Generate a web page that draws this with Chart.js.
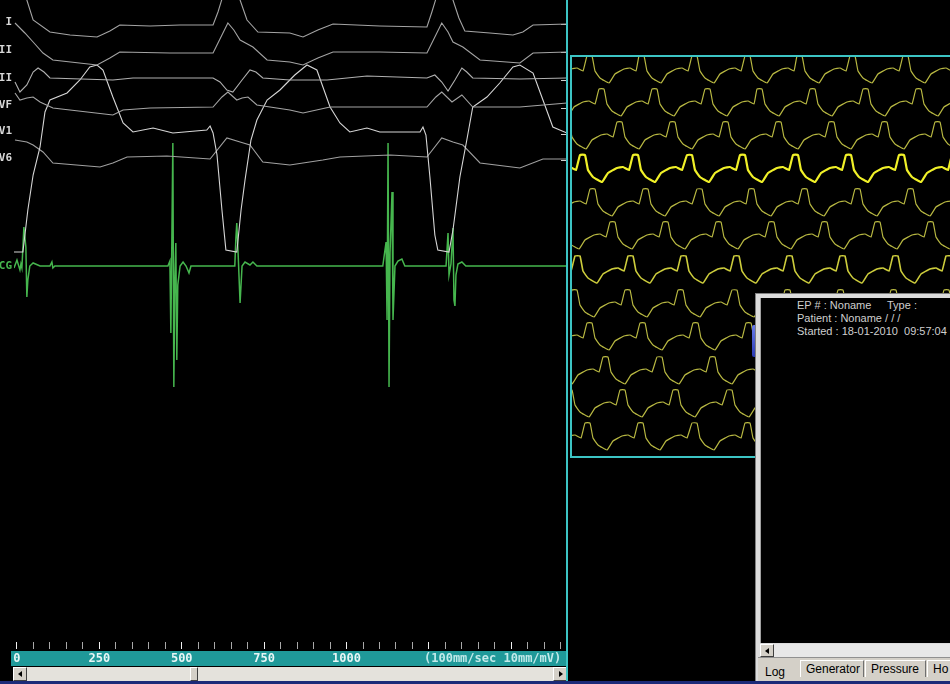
<!DOCTYPE html>
<html>
<head>
<meta charset="utf-8">
<title>EP recording</title>
<script src="https://cdn.jsdelivr.net/npm/chart.js@4.4.1/dist/chart.umd.min.js"></script>
<style>
  html, body { margin: 0; padding: 0; background: #000; }
  body { width: 950px; height: 684px; overflow: hidden; position: relative; font-family: "Liberation Sans", Arial, sans-serif; }
  .abs { position: absolute; }
  #ruler { left: 11px; top: 651px; width: 556px; height: 15px; background: #1f9999; }
  #speed { left: 424px; top: 651px; font: bold 12px "DejaVu Sans Mono", monospace; color: #c2eaea; line-height: 15px; white-space: pre; }
  #vline { left: 566px; top: 0; width: 2px; height: 684px; background: #3cc4c4; }
  #hscroll { left: 13px; top: 667px; width: 554px; height: 14px; background: #e4e2dc; }
  .btn { position: absolute; top: 0; width: 14px; height: 14px; box-sizing: border-box; background: #d4d0c8;
         border-top: 1px solid #fff; border-left: 1px solid #fff; border-right: 1px solid #404040; border-bottom: 1px solid #404040; }
  .triL, .triR { position: absolute; top: 3px; width: 0; height: 0; border-top: 3px solid transparent; border-bottom: 3px solid transparent; }
  .triL { left: 4px; border-right: 4px solid #000; }
  .triR { left: 5px; border-left: 4px solid #000; }
  #gridBox { left: 570px; top: 55px; width: 390px; height: 399px; border-top: 2px solid #3cc4c4; border-left: 2px solid #3cc4c4; border-bottom: 2px solid #3cc4c4; }
  #win { left: 755px; top: 293px; width: 200px; height: 391px; background: #dcdcdc; border-left: 1px solid #808080; border-top: 1px solid #808080; }
  #winInner { left: 760px; top: 298px; width: 192px; height: 345px; background: #000; border-left: 1px solid #a0a0a0; }
  .info { color: #cfcfcf; font-size: 11px; line-height: 13px; white-space: pre; }
  #wscroll { left: 760px; top: 644px; width: 192px; height: 13px; background: #e8e8e8; }
  #tabs { left: 758px; top: 657px; width: 195px; height: 24px; background: #d4d0c8; border-top: 1px solid #909090; }
  .tab { position: absolute; top: 2px; height: 17px; box-sizing: border-box; font-size: 12px; line-height: 16px; color: #000;
         border-top: 1px solid #fff; border-left: 1px solid #fff; border-right: 1px solid #707070; padding-left: 5px; }
  #blueBar { left: 0; top: 681px; width: 950px; height: 3px; background: #1c2a78; }
  #blueMark { left: 752px; top: 325px; width: 5px; height: 32px; background: linear-gradient(#6a7ce8, #2a3ab4); border-radius: 2px; }
</style>
</head>
<body>
<div id="ruler" class="abs"></div>
<canvas id="leftChart" class="abs" width="567" height="666" style="left:0;top:0"></canvas>
<div id="speed" class="abs">(100mm/sec 10mm/mV)</div>
<div id="hscroll" class="abs">
  <div class="btn" style="left:0"><span class="triL"></span></div>
  <div class="btn" style="left:177px;width:8px"></div>
  <div class="btn" style="right:0"><span class="triR"></span></div>
</div>
<div id="vline" class="abs"></div>

<div id="gridBox" class="abs"></div>
<canvas id="gridChart" class="abs" width="378" height="399" style="left:572px;top:57px"></canvas>

<div id="blueMark" class="abs"></div>
<div id="win" class="abs"></div>
<div id="winInner" class="abs"></div>
<div class="abs info" style="left:797px;top:299px">EP # : Noname</div>
<div class="abs info" style="left:887px;top:299px">Type :</div>
<div class="abs info" style="left:797px;top:312px">Patient : Noname / / /</div>
<div class="abs info" style="left:797px;top:325px">Started : 18-01-2010  09:57:04</div>
<div id="wscroll" class="abs">
  <div class="btn" style="left:0;height:13px"><span class="triL" style="top:3px"></span></div>
</div>
<div id="tabs" class="abs">
  <div class="tab" style="left:2px;top:6px;border:none;width:40px">Log</div>
  <div class="tab" style="left:42px;width:64px">Generator</div>
  <div class="tab" style="left:107px;width:61px">Pressure</div>
  <div class="tab" style="left:169px;width:40px">Ho</div>
</div>
<div id="blueBar" class="abs"></div>

<script>
// ---- left panel: surface leads + ECG, time in ms, amplitude relative to each lead baseline ----
const leadNames = ['I', 'II', 'III', 'aVF', 'V1', 'V6', 'ECG'];
const leadBase = [22, 50, 78, 105, 131, 158, 266];   // baseline rows (units from the top)
const leadColors = ['#a4a4a4', '#a4a4a4', '#b0b0b0', '#a4a4a4', '#d6d6d6', '#a0a0a0', '#46b64e'];
const rulerLabels = [0, 250, 500, 750, 1000];

// [time ms, amplitude]
const leadI = [[21,37],[30,22],[49,2],[100,-10],[161,-13],[243,-15],[282,-9],[312,-3],[404,-4],[495,-3],[595,-3],[610,10],[649,52],[677,22],[698,2],[731,-10],[828,-11],[868,-15],[913,-8],[959,-2],[1101,-4],[1244,-5],[1259,10],[1298,52],[1323,22],[1341,4],[1359,-9],[1435,-11],[1505,-13],[1535,-10],[1566,-3],[1669,-2]];
const leadII = [[-6,27],[24,17],[49,8],[79,-3],[109,-10],[243,-15],[282,-8],[312,-2],[464,-3],[595,-3],[622,15],[640,27],[658,20],[677,10],[716,3],[759,-10],[828,-12],[868,-15],[913,-8],[959,-2],[1101,-2],[1244,-3],[1271,15],[1289,27],[1308,18],[1323,8],[1353,3],[1405,-10],[1526,-13],[1566,-3],[1669,-2]];
const leadIII = [[-6,-4],[9,-14],[30,-7],[49,6],[64,10],[82,6],[100,0],[291,-2],[352,0],[464,0],[595,0],[616,-4],[637,-12],[655,-14],[683,-2],[707,8],[725,6],[746,0],[828,-2],[941,-2],[1062,2],[1244,0],[1268,3],[1289,-4],[1308,-13],[1329,-2],[1350,10],[1365,6],[1383,0],[1526,-1],[1669,0]];
const leadAVF = [[-6,12],[9,5],[30,7],[49,8],[70,3],[109,-3],[291,-10],[322,-5],[404,-3],[595,-2],[622,8],[640,13],[667,5],[683,7],[701,8],[728,0],[828,-5],[868,-8],[950,-2],[1244,-2],[1271,8],[1289,13],[1320,3],[1350,10],[1383,-2],[1526,-2],[1669,2]];
const leadV1 = [[-15,-121],[18,-121],[33,-79],[49,-44],[70,-16],[85,19],[100,31],[152,38],[191,51],[221,64],[243,66],[261,61],[291,34],[322,8],[352,-1],[413,3],[473,-2],[576,1],[586,5],[595,-2],[607,-24],[622,-79],[634,-119],[667,-121],[680,-79],[692,-49],[710,-9],[728,11],[759,31],[798,41],[843,56],[880,66],[910,61],[950,24],[980,8],[1010,-1],[1062,3],[1101,-1],[1223,-1],[1232,4],[1241,-4],[1253,-46],[1268,-104],[1277,-119],[1311,-121],[1323,-99],[1344,-46],[1365,-9],[1383,24],[1426,34],[1465,48],[1505,64],[1526,66],[1566,58],[1596,31],[1626,4],[1669,-2]];
const leadV6 = [[-6,18],[30,16],[49,13],[79,6],[109,-5],[252,-9],[291,-5],[334,1],[455,2],[586,-1],[637,20],[677,16],[707,13],[746,-4],[828,-7],[928,-2],[980,1],[1132,3],[1244,1],[1289,20],[1323,16],[1353,13],[1405,-5],[1526,-10],[1596,-1],[1669,-1]];
const leadECG = [[-9,-2],[0,6],[9,-4],[12,2],[15,-2],[21,39],[27,19],[30,-31],[33,-14],[39,0],[49,3],[70,0],[100,0],[106,4],[109,-2],[115,0],[458,0],[464,5],[467,-67],[470,26],[473,123],[476,-121],[479,-14],[482,23],[485,-94],[488,-19],[495,0],[504,4],[513,0],[522,-7],[528,0],[661,0],[664,26],[667,43],[671,13],[677,-37],[683,0],[692,4],[707,1],[716,4],[728,0],[1110,0],[1120,24],[1123,-54],[1126,123],[1129,-121],[1132,13],[1138,74],[1141,-54],[1147,0],[1156,5],[1168,7],[1177,0],[1302,0],[1308,33],[1311,-9],[1317,2],[1323,38],[1326,-34],[1329,-40],[1332,-9],[1338,2],[1350,4],[1362,0],[1669,0]];

const leads = [leadI, leadII, leadIII, leadAVF, leadV1, leadV6, leadECG];

// ---- right panel: 12 beat strips (sample index across, one template per beat) ----
const gridRowTops = [-1, 32, 65, 98, 132, 165, 199, 233, 266, 300, 333, 366];
const gridOnsets = [
  [-38, 15, 67, 120, 173, 225, 278, 331, 384],
  [-26, 27, 80, 133, 185, 238, 291, 344, 397],
  [-8, 45, 98, 151, 204, 257, 310, 363],
  [-45, 8, 61, 115, 168, 221, 274, 327, 380],
  [-35, 18, 71, 125, 177, 230, 283, 336, 389],
  [-15, 38, 91, 144, 197, 250, 303, 356],
  [-50, 3, 56, 109, 162, 215, 268, 321, 374],
  [-53, 0, 53, 106, 160, 213, 266, 319, 372],
  [-38, 15, 68, 121, 174, 227, 280, 333, 386],
  [-22, 31, 85, 138, 191, 244, 297, 350],
  [-5, 48, 101, 155, 208, 261, 314, 367],
  [-40, 13, 66, 120, 173, 226, 279, 332, 385]
];
const beatDx = [0, 5, 8, 13, 22, 28, 37, 43, 49];
const beatDy = [0, 0, 15, 22, 27, 18, 13, 12, 15];

const monoBold = { family: 'DejaVu Sans Mono', size: 11, weight: 'bold' };
const noEdgePad = s => { s.paddingTop = 0; s.paddingBottom = 0; };

// left chart
new Chart(document.getElementById('leftChart').getContext('2d'), {
  type: 'line',
  data: {
    datasets: leads.map((pts, i) => ({
      label: leadNames[i],
      data: pts.map(p => ({ x: p[0], y: p[1] - leadBase[i] })),
      borderColor: leadColors[i],
      borderWidth: i === 6 ? 1.5 : 1.1,
      pointRadius: 0,
      tension: 0,
      fill: false
    }))
  },
  options: {
    responsive: false,
    animation: false,
    layout: { padding: 0 },
    plugins: { legend: { display: false }, tooltip: { enabled: false } },
    scales: {
      x: {
        type: 'linear', min: -9, max: 1669, position: 'bottom',
        afterFit: s => { s.height = 24; },
        afterBuildTicks: s => {
          const t = [];
          for (let v = 0; v <= 1650; v += 50) t.push({ value: v });
          s.ticks = t;
        },
        border: { display: false },
        grid: {
          drawOnChartArea: false, drawTicks: true, tickLength: 7,
          color: c => (c.tick && c.tick.value % 250 === 0) ? '#f0f0f0' : '#a8a8a8'
        },
        ticks: {
          autoSkip: false, maxRotation: 0, padding: 3, color: '#e8f6f6',
          font: { family: 'DejaVu Sans Mono', size: 12, weight: 'bold' },
          callback: v => rulerLabels.includes(v) ? String(v) : ''
        }
      },
      y: {
        type: 'linear', min: -642, max: 0, position: 'left',
        afterFit: s => { s.width = 14; noEdgePad(s); },
        afterBuildTicks: s => { s.ticks = leadBase.map(b => ({ value: -b })); },
        border: { display: false },
        grid: { display: false, drawTicks: false },
        ticks: {
          padding: 2, autoSkip: false, font: monoBold,
          color: c => c.index === 6 ? '#46b64e' : '#d8d8d8',
          callback: (v, i) => leadNames[i]
        }
      },
      y2: {
        type: 'linear', min: -642, max: 0, position: 'right',
        afterFit: s => { s.width = 0; noEdgePad(s); },
        afterBuildTicks: s => { s.ticks = leadBase.slice(0, 6).map(b => ({ value: -b - 3 })); },
        border: { display: false },
        grid: { drawOnChartArea: false, drawTicks: true, tickLength: -6, color: '#cfcfcf' },
        ticks: { display: false }
      }
    }
  }
});

// right chart
const gridDatasets = gridRowTops.map((top, r) => {
  const pts = [];
  gridOnsets[r].forEach(o => {
    beatDx.forEach((dx, k) => pts.push({ x: o + dx, y: -(top + beatDy[k]) }));
  });
  return {
    data: pts,
    borderColor: r === 3 ? '#f0f028' : (r === 6 ? '#cccc3c' : '#b8b842'),
    borderWidth: r === 3 ? 2.2 : (r === 6 ? 1.6 : 1.2),
    pointRadius: 0,
    tension: 0.1,
    fill: false
  };
});

new Chart(document.getElementById('gridChart').getContext('2d'), {
  type: 'line',
  data: { datasets: gridDatasets },
  options: {
    responsive: false,
    animation: false,
    layout: { padding: 0 },
    plugins: { legend: { display: false }, tooltip: { enabled: false } },
    scales: {
      x: { type: 'linear', min: 0, max: 378, display: false },
      y: { type: 'linear', min: -399, max: 0, display: false }
    }
  }
});
</script>
</body>
</html>
